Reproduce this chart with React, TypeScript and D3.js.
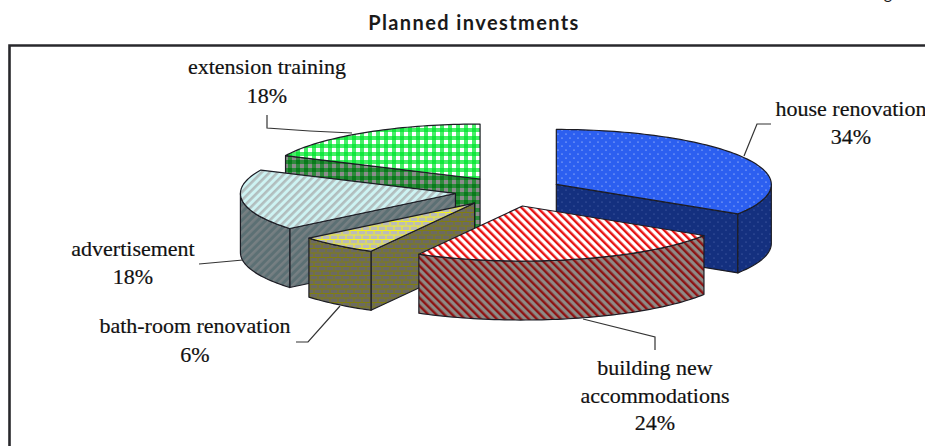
import React, { useMemo } from "react";
import * as d3 from "d3";

const categories = ["house renovation", "building new accommodations", "bath-room renovation", "advertisement", "extension training"];
const values = [34, 24, 6, 18, 18];
const percentLabels = ["34%", "24%", "6%", "18%", "18%"];
const patternIds = ["dots", "stripesDown", "bricks", "stripesUp", "checks"];
const paintOrder = [4, 3, 0, 2, 1];

const W = 925, H = 446;
const CX = 509, CY = 191.6, RX = 215, RY = 55, DEPTH = 59, EX = 54, EY = 14.9;
const SERIF = "'Liberation Serif', serif";

const labelLayout = [
  { x: 851, ys: [116, 144], lines: ["house renovation"] },
  { x: 655, ys: [375, 403, 430], lines: ["building new", "accommodations"] },
  { x: 195, ys: [333, 362], lines: ["bath-room renovation"] },
  { x: 133, ys: [256, 284], lines: ["advertisement"] },
  { x: 267, ys: [74, 103], lines: ["extension training"] },
];
const leaders: [number, number][][] = [
  [[771, 124], [757, 124], [744, 156]],
  [[655, 350], [655, 337], [583, 319]],
  [[296, 342], [308, 342], [340, 306]],
  [[199, 264], [243, 260]],
  [[267, 115], [267, 128], [310, 131], [352, 133]],
];

const line = d3.line<[number, number]>().x((d) => d[0]).y((d) => d[1]);
const STROKE = "#1c1c24";

function Stripes({ id, bg, fg, angle, w }: { id: string; bg: string; fg: string; angle: number; w: number }) {
  return (
    <pattern id={id} width={5.66} height={5.66} patternUnits="userSpaceOnUse" patternTransform={`rotate(${angle})`}>
      <rect width={5.66} height={5.66} fill={bg} />
      <rect width={w} height={5.66} fill={fg} />
    </pattern>
  );
}
function Dots({ id, bg, fg, r }: { id: string; bg: string; fg: string; r: number }) {
  return (
    <pattern id={id} width={8} height={8} patternUnits="userSpaceOnUse">
      <rect width={8} height={8} fill={bg} />
      <circle cx={2} cy={2} r={r} fill={fg} />
      <circle cx={6} cy={6} r={r} fill={fg} />
    </pattern>
  );
}
function Checks({ id, bg, a, b }: { id: string; bg: string; a: string; b: string }) {
  return (
    <pattern id={id} width={8} height={8} patternUnits="userSpaceOnUse">
      <rect width={8} height={8} fill={bg} />
      <rect x={0} y={0} width={4} height={4} fill={a} />
      <rect x={4} y={4} width={4} height={4} fill={b} />
    </pattern>
  );
}
function Bricks({ id, bg, fg }: { id: string; bg: string; fg: string }) {
  return (
    <pattern id={id} width={8} height={9} patternUnits="userSpaceOnUse">
      <rect width={8} height={9} fill={bg} />
      <path d="M0 1H8M0 5.5H8M2 1V5.5M6 5.5V9" stroke={fg} strokeWidth={1} fill="none" />
    </pattern>
  );
}

export default function App() {
  const slices = useMemo(() => {
    const arcs = d3.pie<number>().sort(null).value((d) => d)(values);
    const radial = d3.scaleLinear().domain([-1, 1]).range([-RX, RX]);
    const vertical = d3.scaleLinear().domain([-1, 1]).range([-RY, RY]);
    return arcs.map((a, i) => {
      const mid = (a.startAngle + a.endAngle) / 2;
      const ox = CX + (EX * Math.sin(mid));
      const oy = CY - (EY * Math.cos(mid));
      const pt = (t: number): [number, number] => [ox + radial(Math.sin(t)), oy + vertical(-Math.cos(t))];
      const sample = (t0: number, t1: number) => {
        const n = Math.max(2, Math.ceil(Math.abs(t1 - t0) * 40));
        return d3.range(n + 1).map((k) => pt(t0 + ((t1 - t0) * k) / n));
      };
      const down = (p: [number, number]): [number, number] => [p[0], p[1] + DEPTH];
      const apex: [number, number] = [ox, oy];
      const top = `${line([apex, ...sample(a.startAngle, a.endAngle)])}Z`;
      const walls: string[] = [];
      const edges = [
        { t: a.startAngle, show: a.startAngle > Math.PI },
        { t: a.endAngle, show: a.endAngle < Math.PI },
      ];
      edges.forEach((e) => {
        if (e.show) walls.push(`${line([apex, pt(e.t), down(pt(e.t)), down(apex)])}Z`);
      });
      const w0 = Math.max(a.startAngle, Math.PI / 2);
      const w1 = Math.min(a.endAngle, (3 * Math.PI) / 2);
      if (w1 > w0) {
        const rim = sample(w0, w1);
        walls.push(`${line([...rim, ...rim.slice().reverse().map(down)])}Z`);
      }
      return { i, top, walls };
    });
  }, []);

  return (
    <svg width={W} height={H} viewBox={`0 0 ${W} ${H}`} style={{ position: "absolute", left: 0, top: 0, background: "#fff" }}>
      <defs>
        <Dots id="dots-top" bg="#2c5ff0" fg="#dfe8ff" r={0.6} />
        <Dots id="dots-wall" bg="#14307f" fg="#5c74b8" r={0.6} />
        <Stripes id="stripesDown-top" bg="#ffffff" fg="#e81414" angle={-45} w={2.4} />
        <Stripes id="stripesDown-wall" bg="#8e8a86" fg="#8e1414" angle={-45} w={2.4} />
        <Bricks id="bricks-top" bg="#bcbcb8" fg="#f2f020" />
        <Bricks id="bricks-wall" bg="#6c6a62" fg="#807e10" />
        <Stripes id="stripesUp-top" bg="#cdf3f3" fg="#b2bebe" angle={45} w={2.6} />
        <Stripes id="stripesUp-wall" bg="#5c7074" fg="#767f82" angle={45} w={2.6} />
        <Checks id="checks-top" bg="#48ee68" a="#10e83c" b="#ffffff" />
        <Checks id="checks-wall" bg="#2e8a3c" a="#0a7a1c" b="#8c8c8c" />
      </defs>

      <text x={474} y={30} textAnchor="middle" fontFamily="Lato, sans-serif" fontWeight={700} fontSize={20} letterSpacing={1.4} fill="#1a1a1a">Planned investments</text>
      <text x={888} y={-1} textAnchor="middle" fontFamily="Lato, sans-serif" fontSize={16} fill="#1a1a1a">g</text>

      <path d={`M${W} 45.5H9.5V${H}`} fill="none" stroke="#28282c" strokeWidth={2.6} />

      {leaders.map((l, i) => (
        <path key={i} d={line(l) ?? ""} fill="none" stroke="#333" strokeWidth={1.2} />
      ))}

      {paintOrder.map((idx) => {
        const s = slices[idx];
        const pid = patternIds[idx];
        return (
          <g key={idx} stroke={STROKE} strokeWidth={1.2} strokeLinejoin="round">
            {s.walls.map((d, k) => (
              <path key={k} d={d} fill={`url(#${pid}-wall)`} />
            ))}
            <path d={s.top} fill={`url(#${pid}-top)`} />
          </g>
        );
      })}

      {categories.map((c, i) => {
        const lay = labelLayout[i];
        const rows = [...lay.lines, percentLabels[i]];
        return (
          <text key={c} fontFamily={SERIF} fontSize={22} fill="#111" stroke="#111" strokeWidth={0.2} textAnchor="middle">
            {rows.map((r, k) => (
              <tspan key={k} x={lay.x} y={lay.ys[k]}>{r}</tspan>
            ))}
          </text>
        );
      })}
    </svg>
  );
}
